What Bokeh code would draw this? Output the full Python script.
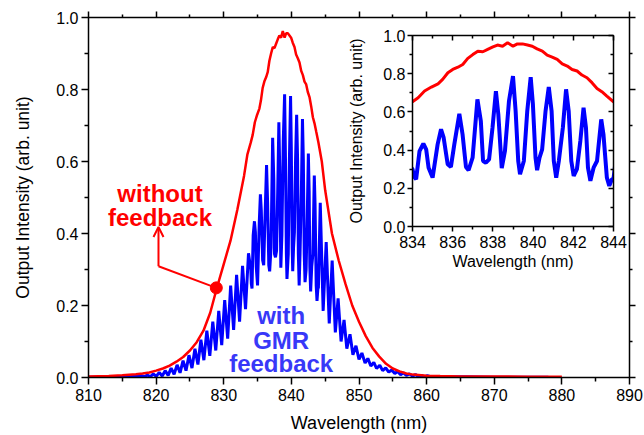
from bokeh.plotting import figure
from bokeh.models import (Range1d, LinearAxis, FixedTicker, Label, Arrow, OpenHead,
                          CustomJSTickFormatter, PrintfTickFormatter)
from bokeh.layouts import column
from bokeh.embed import file_html
from bokeh.resources import INLINE

FONT = "Liberation Sans"

# ---------------- data ----------------
red_wl = [810.0, 813.0, 815.0, 817.0, 818.0, 819.0, 820.0, 821.0, 822.0, 823.0, 824.0, 825.0,
          826.0, 827.0, 828.0, 829.0, 830.0, 831.0, 832.0, 833.0, 833.5,
          834.0, 834.28, 834.6, 834.94, 835.27, 835.5, 835.76, 836.0, 836.26, 836.5, 836.75,
          837.0, 837.25, 837.5, 837.74, 838.0, 838.23, 838.48, 838.73, 839.0, 839.22, 839.47,
          839.72, 839.96, 840.2, 840.46, 840.7, 840.95, 841.2, 841.45, 841.7, 841.94, 842.19,
          842.43, 842.68, 842.93, 843.18, 843.42, 843.67, 844.0,
          844.5, 845.0, 845.5, 846.0, 847.0, 848.0, 849.0, 850.0, 851.0, 852.0, 853.0, 854.0,
          855.0, 856.0, 857.0, 858.0, 860.0, 862.0, 865.0, 870.0, 875.0, 880.0]
red_val = [0.003, 0.004, 0.006, 0.009, 0.011, 0.014, 0.019, 0.025, 0.033, 0.044, 0.057, 0.075,
           0.098, 0.130, 0.180, 0.250, 0.315, 0.380, 0.465, 0.560, 0.620,
           0.653, 0.674, 0.709, 0.730, 0.747, 0.770, 0.805, 0.822, 0.834, 0.848, 0.880,
           0.900, 0.918, 0.915, 0.927, 0.940, 0.950, 0.944, 0.962, 0.944, 0.956, 0.956,
           0.950, 0.944, 0.930, 0.918, 0.897, 0.887, 0.875, 0.852, 0.840, 0.822, 0.814,
           0.793, 0.779, 0.753, 0.723, 0.706, 0.683, 0.653,
           0.600, 0.520, 0.460, 0.400, 0.325, 0.260, 0.200, 0.155, 0.115, 0.082, 0.058, 0.038,
           0.025, 0.017, 0.011, 0.008, 0.005, 0.004, 0.003, 0.003, 0.002, 0.002]

blue_wl = [810.0, 813.0, 816.0, 817.0,
           817.82, 818.26, 818.70, 819.14, 819.58, 820.02, 820.46, 820.90, 821.34, 821.78,
           822.22, 822.66, 823.10, 823.54, 823.98, 824.42, 824.86, 825.30, 825.74, 826.18,
           826.62, 827.06, 827.50, 827.94, 828.38, 828.82, 829.26, 829.70, 830.14, 830.58,
           831.02, 831.46, 831.90, 832.34, 832.78, 833.22, 833.66,
           834.0, 834.08, 834.18, 834.35, 834.54, 834.68, 834.80, 835.0, 835.25, 835.42,
           835.55, 835.75, 835.91, 836.08, 836.33, 836.49, 836.66, 836.79, 836.99, 837.23,
           837.4, 837.51, 837.65, 837.81, 837.98, 838.15, 838.27, 838.44, 838.6, 838.8,
           839.0, 839.13, 839.26, 839.35, 839.54, 839.71, 839.88, 839.99, 840.12, 840.2,
           840.32, 840.45, 840.62, 840.78, 840.92, 841.03, 841.15, 841.28, 841.48, 841.64,
           841.77, 841.9, 842.02, 842.18, 842.35, 842.51, 842.63, 842.73, 842.85, 843.01,
           843.18, 843.39, 843.5, 843.67, 843.79, 843.92, 844.0,
           844.27, 844.70, 845.15, 845.60, 846.03, 846.50, 846.91, 847.35, 847.79, 848.20,
           848.67, 849.10, 849.55, 850.00, 850.43, 850.90, 851.31, 851.75, 852.19, 852.60,
           853.07, 853.50, 853.95, 854.40, 854.83, 855.30, 855.71, 856.15, 856.59, 857.00,
           857.47, 857.90, 858.35, 858.80, 859.23, 859.70, 860.11, 860.60,
           862.0, 866.0, 870.0, 875.0, 878.0]
blue_val = [0.001, 0.002, 0.003, 0.003,
            0.005, 0.002, 0.007, 0.002, 0.010, 0.003, 0.014, 0.004, 0.019, 0.006,
            0.026, 0.009, 0.035, 0.013, 0.047, 0.019, 0.062, 0.026, 0.080, 0.036,
            0.105, 0.048, 0.130, 0.060, 0.155, 0.075, 0.185, 0.090, 0.215, 0.108,
            0.255, 0.132, 0.285, 0.155, 0.310, 0.190, 0.345,
            0.300, 0.260, 0.247, 0.395, 0.434, 0.404, 0.308, 0.256, 0.430, 0.509,
            0.465, 0.326, 0.312, 0.430, 0.590, 0.483, 0.312, 0.295, 0.360, 0.666,
            0.552, 0.343, 0.334, 0.352, 0.517, 0.709, 0.587, 0.305, 0.396, 0.657,
            0.787, 0.605, 0.343, 0.274, 0.343, 0.605, 0.782, 0.640, 0.360, 0.295,
            0.360, 0.404, 0.605, 0.730, 0.605, 0.343, 0.256, 0.343, 0.517, 0.718,
            0.605, 0.343, 0.265, 0.300, 0.448, 0.622, 0.517, 0.308, 0.239, 0.308,
            0.343, 0.561, 0.483, 0.256, 0.213, 0.247, 0.250,
            0.485, 0.185, 0.376, 0.150, 0.325, 0.125, 0.220, 0.100, 0.160, 0.080,
            0.120, 0.063, 0.088, 0.050, 0.068, 0.040, 0.053, 0.032, 0.042, 0.025,
            0.034, 0.019, 0.027, 0.015, 0.021, 0.011, 0.017, 0.008, 0.013, 0.006,
            0.010, 0.004, 0.008, 0.003, 0.006, 0.002, 0.005, 0.002,
            0.002, 0.002, 0.001, 0.001, 0.001]

main_xticks = [810, 820, 830, 840, 850, 860, 870, 880, 890]
main_xminor = [815, 825, 835, 845, 855, 865, 875, 885]
yticks = [0.0, 0.2, 0.4, 0.6, 0.8, 1.0]
yminor = [0.1, 0.3, 0.5, 0.7, 0.9]
inset_xticks = [834, 836, 838, 840, 842, 844]
inset_xminor = [835, 837, 839, 841, 843]

annot_point = (828.9, 0.249)
arrow_path_x = [828.9, 820.35, 820.35]
arrow_path_y = [0.249, 0.309, 0.309]
arrow_tip = (820.35, 0.418)

blank = CustomJSTickFormatter(code="return ''")


def style_axis(ax, ticks, minor, out, inn, mout, minn, labels=True, fs="16px", standoff=3,
               fmt=None):
    ax.ticker = FixedTicker(ticks=ticks, minor_ticks=minor)
    ax.axis_line_color = "black"
    ax.axis_line_width = 1.5
    ax.major_tick_line_color = "black"
    ax.major_tick_line_width = 1.5
    ax.minor_tick_line_color = "black"
    ax.minor_tick_line_width = 1.5
    ax.major_tick_out = out
    ax.major_tick_in = inn
    ax.minor_tick_out = mout
    ax.minor_tick_in = minn
    ax.major_label_text_font = FONT
    ax.major_label_text_font_size = fs
    ax.major_label_text_color = "black"
    ax.major_label_standoff = standoff
    ax.axis_label_text_font = FONT
    ax.axis_label_text_font_style = "normal"
    ax.axis_label_text_color = "black"
    if not labels:
        ax.formatter = blank
    elif fmt is not None:
        ax.formatter = PrintfTickFormatter(format=fmt)


# ---------------- main figure ----------------
p = figure(width=644, height=435, x_range=Range1d(810, 890), y_range=Range1d(0, 1),
           output_backend="svg", toolbar_location=None,
           min_border_left=88, min_border_right=11, min_border_top=17, min_border_bottom=58,
           x_axis_label="Wavelength (nm)", y_axis_label="Output Intensity (arb. unit)")
p.outline_line_color = "black"
p.xgrid.visible = False
p.ygrid.visible = False
p.background_fill_color = "white"
p.border_fill_color = "white"

style_axis(p.xaxis[0], main_xticks, main_xminor, 7, 0, 4, 0, standoff=4, fmt="%d")
style_axis(p.yaxis[0], yticks, yminor, 7, 0, 4, 0, standoff=3, fmt="%.1f")
p.xaxis[0].axis_label_text_font_size = "18px"
p.yaxis[0].axis_label_text_font_size = "17.5px"
p.xaxis[0].axis_label_standoff = 9
p.yaxis[0].axis_label_standoff = 20

top_ax = LinearAxis()
style_axis(top_ax, main_xticks, main_xminor, 6, 0, 3, 0, labels=False, fs="1px", standoff=0)
p.add_layout(top_ax, "above")
right_ax = LinearAxis()
style_axis(right_ax, yticks, yminor, 6, 0, 3, 0, labels=False, fs="1px", standoff=0)
p.add_layout(right_ax, "right")

p.line(blue_wl, blue_val, line_color="#0000ff", line_width=3)
p.line(red_wl, red_val, line_color="#ff0000", line_width=2.5)

p.line(arrow_path_x, arrow_path_y, line_color="#ff0000", line_width=2)
p.add_layout(Arrow(x_start=arrow_path_x[-1], y_start=arrow_path_y[-1],
                   x_end=arrow_tip[0], y_end=arrow_tip[1],
                   line_color="#ff0000", line_width=2,
                   end=OpenHead(size=10, line_color="#ff0000", line_width=2)))
p.scatter([annot_point[0]], [annot_point[1]], size=12, color="#ff0000")

for txt, yy in (("without", 0.511), ("feedback", 0.445)):
    p.add_layout(Label(x=820.57, y=yy, text=txt, text_font=FONT, text_font_size="24px",
                       text_font_style="bold", text_color="#ff0000", text_align="center",
                       text_baseline="alphabetic"))
for txt, yy in (("with", 0.172), ("GMR", 0.103), ("feedback", 0.040)):
    p.add_layout(Label(x=838.49, y=yy, text=txt, text_font=FONT, text_font_size="24px",
                       text_font_style="bold", text_color="#3838f8", text_align="center",
                       text_baseline="alphabetic"))

# ---------------- inset ----------------
ins = figure(width=304, height=256, x_range=Range1d(834, 844), y_range=Range1d(0, 1),
             output_backend="svg", toolbar_location=None,
             min_border_left=87, min_border_right=15, min_border_top=15, min_border_bottom=50,
             x_axis_label="Wavelength (nm)", y_axis_label="Output Intensity (arb. unit)")
ins.outline_line_color = "black"
ins.xgrid.visible = False
ins.ygrid.visible = False
ins.background_fill_color = "white"
ins.border_fill_alpha = 0
style_axis(ins.xaxis[0], inset_xticks, inset_xminor, 5, 0, 3, 0, standoff=4, fmt="%d")
style_axis(ins.yaxis[0], yticks, yminor, 5, 0, 3, 0, standoff=2, fmt="%.1f")
ins.xaxis[0].axis_label_text_font_size = "16px"
ins.yaxis[0].axis_label_text_font_size = "16px"
ins.xaxis[0].axis_label_standoff = 2
ins.yaxis[0].axis_label_standoff = 15
it = LinearAxis()
style_axis(it, inset_xticks, inset_xminor, 0, 5, 0, 3, labels=False, fs="1px", standoff=0)
ins.add_layout(it, "above")
ir = LinearAxis()
style_axis(ir, yticks, yminor, 0, 5, 0, 3, labels=False, fs="1px", standoff=0)
ins.add_layout(ir, "right")

ins.line(red_wl, red_val, line_color="#ff0000", line_width=3)
ins.line(blue_wl, blue_val, line_color="#0000ff", line_width=4)

ins.styles = {"position": "absolute", "left": "324px", "top": "20px"}

layout = column(p, ins, width=644, height=435)
layout.styles = {"position": "relative"}

open("out.html", "w").write(file_html(layout, INLINE))
